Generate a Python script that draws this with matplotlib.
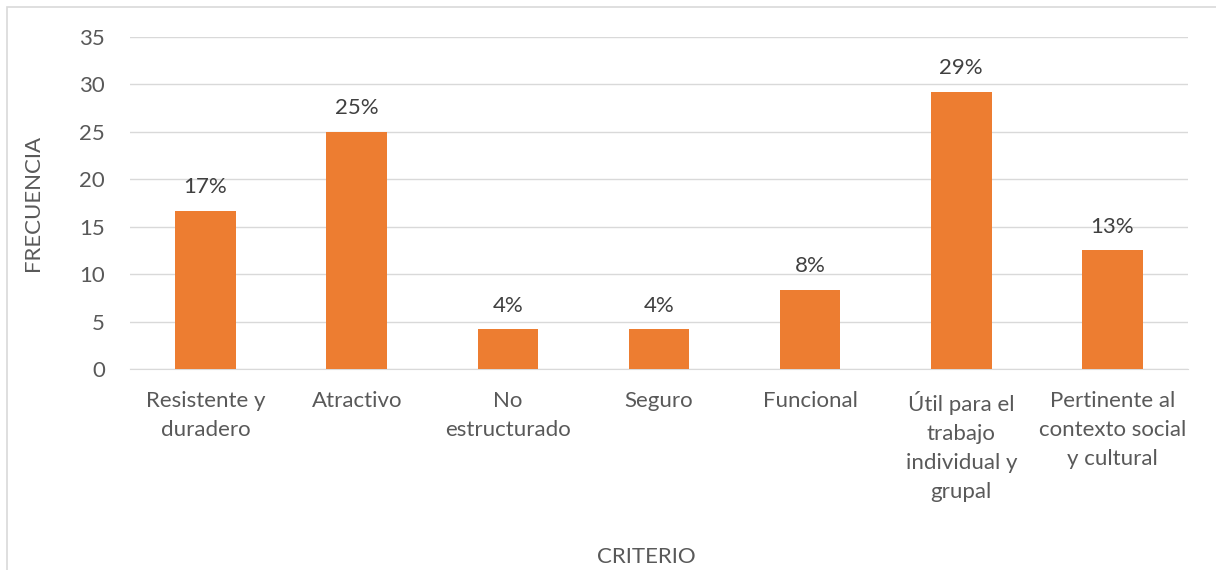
import numpy as np
import matplotlib.pyplot as plt

# data
criterios = ['Resistente y\nduradero', 'Atractivo', 'No\nestructurado', 'Seguro',
             'Funcional', 'Útil para el\ntrabajo\nindividual y\ngrupal',
             'Pertinente al\ncontexto social\ny cultural']
frecuencia = [16.67, 25.0, 4.17, 4.17, 8.33, 29.17, 12.5]
etiquetas = ['17%', '25%', '4%', '4%', '8%', '29%', '13%']
yticks = [0, 5, 10, 15, 20, 25, 30, 35]

plt.rcParams['font.family'] = ['Lato', 'DejaVu Sans']
txt = '#595959'
fs = 16

fig = plt.figure(figsize=(12.16, 5.7), dpi=100)
ax = fig.add_axes([130 / 1216, 1 - 369 / 570, (1188 - 130) / 1216, (369 - 37) / 570])

x = np.arange(len(criterios))
bars = ax.bar(x, frecuencia, width=0.4, color='#ED7D31', zorder=3)
for b, lab in zip(bars, etiquetas):
    ax.annotate(lab, (b.get_x() + b.get_width() / 2, b.get_height()),
                xytext=(0, 10), textcoords='offset points', ha='center', va='bottom',
                fontsize=fs, color='#404040')

ax.set_xlim(-0.5, len(criterios) - 0.5)
ax.set_ylim(0, 35)
ax.set_yticks(yticks)
ax.grid(axis='y', color='#D9D9D9', linewidth=1, zorder=0)
for s in ['top', 'right', 'left']:
    ax.spines[s].set_visible(False)
ax.spines['bottom'].set_color('#D9D9D9')
ax.tick_params(axis='both', length=0, labelsize=fs, labelcolor=txt)
ax.tick_params(axis='y', pad=18)
ax.set_xticks(x)
ax.set_xticklabels(criterios, linespacing=1.55, va='top')
ax.tick_params(axis='x', pad=16)

fig.text(646 / 1216, 1 - 557 / 570, 'CRITERIO', ha='center', va='center', fontsize=fs, color=txt)
fig.text(33 / 1216, 1 - 203 / 570, 'FRECUENCIA', ha='center', va='center', rotation=90,
         fontsize=fs, color=txt)

# chart border
fig.patches.append(plt.Rectangle((7 / 1216, -0.05), 1.1, 1 - 7 / 570 + 0.05,
                                 transform=fig.transFigure, fill=False,
                                 edgecolor='#D9D9D9', linewidth=1.2))

fig.savefig('out.png', dpi=100)
